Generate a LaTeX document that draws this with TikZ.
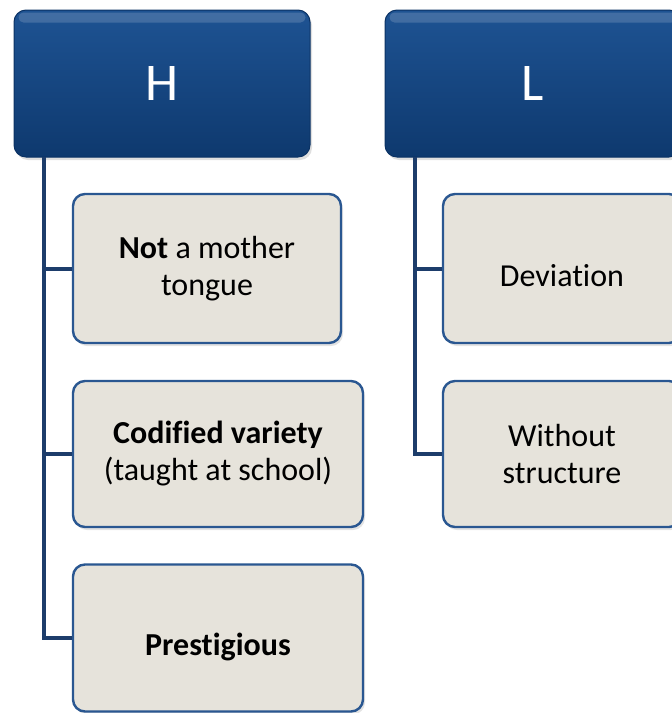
\documentclass[tikz,border=0pt]{standalone}
\usepackage{fontspec}
\setmainfont[Ligatures=NoCommon]{Carlito}
\usetikzlibrary{shadows,calc}
\definecolor{hdrtop}{HTML}{1E5393}
\definecolor{hdrbot}{HTML}{0E396E}
\definecolor{hdredge}{HTML}{0B3264}
\definecolor{boxfill}{HTML}{E6E3DB}
\definecolor{boxedge}{HTML}{2A5791}
\definecolor{linkcol}{HTML}{1D3D6B}
\begin{document}
\begin{tikzpicture}[x=1pt,y=-1pt,
  header/.style={rounded corners=12pt, top color=hdrtop, bottom color=hdrbot,
    draw=hdredge, line width=1pt, minimum width=296pt, minimum height=147pt,
    inner sep=0pt, text=white, font=\fontsize{53}{60}\selectfont,
    drop shadow={opacity=0.25, shadow xshift=2pt, shadow yshift=-3pt}},
  gloss/.style={fill=white, opacity=0.16, rounded corners=5pt},
  item/.style={rounded corners=12pt, fill=boxfill, draw=boxedge, line width=2.4pt,
    inner sep=0pt, align=center, text=black, font=\fontsize{32}{37}\selectfont,
    drop shadow={opacity=0.22, shadow xshift=2pt, shadow yshift=-3pt}},
  oneline/.style={text height=35pt, text depth=0pt},
  link/.style={draw=linkcol, line width=4pt}
]
\useasboundingbox (0,0) rectangle (672,713);
\clip (0,0) rectangle (672,713);

% spines hanging from the two headers
\coordinate (hspine) at (44,157);
\coordinate (lspine) at (415,157);

% H column
\node[header] (hH) at (162,83.5) {H};
\fill[gloss] ($(hH.north west)+(5,3)$) rectangle ($(hH.north east)+(-5,13)$);
\node[item, minimum width=268pt, minimum height=149pt] (h1) at (207,268.5)
  {\textbf{Not} a mother\\tongue};
\node[item, minimum width=290pt, minimum height=146pt] (h2) at (218,454)
  {\textbf{Codified variety}\\(taught at school)};
\node[item, oneline, minimum width=290pt, minimum height=147pt] (h3) at (218,638)
  {\textbf{Prestigious}};

% L column
\node[header] (hL) at (533,83.5) {L};
\fill[gloss] ($(hL.north west)+(5,3)$) rectangle ($(hL.north east)+(-5,13)$);
\node[item, oneline, minimum width=238pt, minimum height=149pt] (l1) at (562,268.5)
  {Deviation};
\node[item, minimum width=238pt, minimum height=146pt] (l2) at (562,454)
  {Without\\structure};

% connectors
\draw[link] (hspine) |- (h3.west);
\draw[link] (hspine |- h1.west) -- (h1.west);
\draw[link] (hspine |- h2.west) -- (h2.west);
\draw[link] (lspine) |- (l2.west);
\draw[link] (lspine |- l1.west) -- (l1.west);
\end{tikzpicture}
\end{document}
